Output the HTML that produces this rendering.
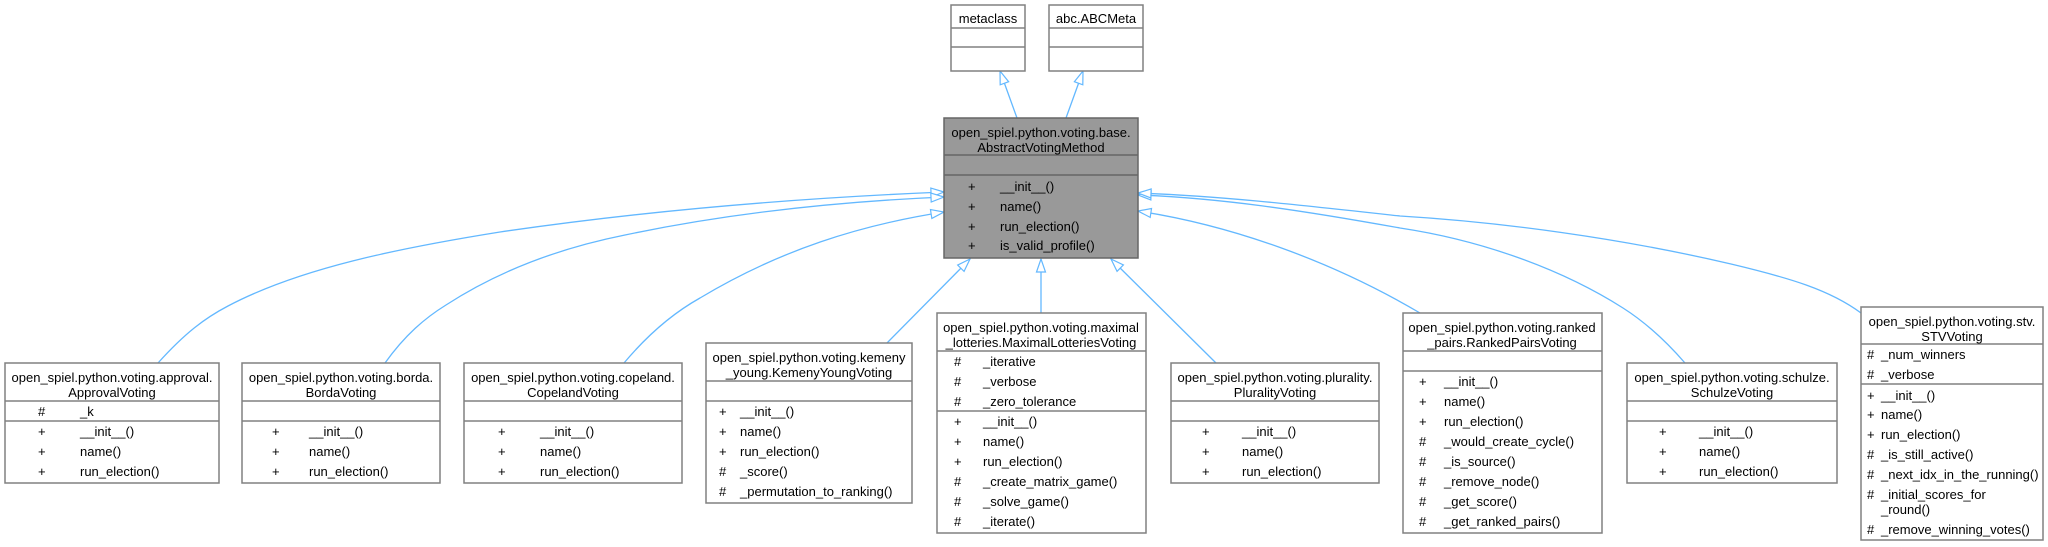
<!DOCTYPE html>
<html><head><meta charset="utf-8"><style>
html,body{margin:0;padding:0;background:#fff;}
svg{display:block;}
text{font-family:"Liberation Sans",Arial,sans-serif;font-size:13px;fill:#000;}
.b{fill:#fff;stroke:#808080;stroke-width:1.5;}
.g{fill:#999;stroke:#666;stroke-width:1.5;}
.d{stroke:#808080;stroke-width:1.5;}
.dg{stroke:#666;stroke-width:1.5;}
.e{fill:none;stroke:#63b8ff;stroke-width:1.3;}
</style></head><body>
<svg width="2048" height="547" viewBox="0 0 2048 547" xmlns="http://www.w3.org/2000/svg">
<defs>
<marker id="a" markerUnits="userSpaceOnUse" markerWidth="16" markerHeight="12" refX="14" refY="5.5" orient="auto">
<path d="M1,1 L14,5.5 L1,10 z" fill="#fff" stroke="#63b8ff" stroke-width="1.2"/>
</marker>
</defs>

<!-- edges -->
<path class="e" marker-end="url(#a)" d="M1017,118 L1000,71"/>
<path class="e" marker-end="url(#a)" d="M1066,118 L1083,71"/>
<path class="e" marker-end="url(#a)" d="M158,363 C185,333 205,318 228,306 C300,268 400,248 500,232 C650,210 800,198 944,192"/>
<path class="e" marker-end="url(#a)" d="M385,363 C405,335 425,318 446,305 C500,270 560,248 625,235 C720,215 830,202 944,197"/>
<path class="e" marker-end="url(#a)" d="M624,363 C650,332 675,312 700,298 C780,250 860,225 944,212"/>
<path class="e" marker-end="url(#a)" d="M887,343 L970,259"/>
<path class="e" marker-end="url(#a)" d="M1041,313 L1041,259"/>
<path class="e" marker-end="url(#a)" d="M1216,363 L1111,259"/>
<path class="e" marker-end="url(#a)" d="M1420,313 C1330,260 1230,225 1138,211"/>
<path class="e" marker-end="url(#a)" d="M1685,363 C1665,340 1645,322 1623,308 C1560,268 1480,240 1400,228 C1300,210 1220,198 1138,195"/>
<path class="e" marker-end="url(#a)" d="M1861,313 C1830,290 1790,278 1731,264 C1620,238 1500,222 1400,216 C1300,205 1220,196 1138,193"/>

<!-- metaclass -->
<rect class="b" x="951" y="5" width="74" height="66"/>
<line class="d" x1="951" y1="28" x2="1025" y2="28"/><line class="d" x1="951" y1="47" x2="1025" y2="47"/>
<text x="988" y="23" text-anchor="middle">metaclass</text>
<!-- ABCMeta -->
<rect class="b" x="1049" y="5" width="94" height="66"/>
<line class="d" x1="1049" y1="28" x2="1143" y2="28"/><line class="d" x1="1049" y1="47" x2="1143" y2="47"/>
<text x="1096" y="23" text-anchor="middle">abc.ABCMeta</text>

<!-- Base -->
<rect class="g" x="944" y="118" width="194" height="140"/>
<line class="dg" x1="944" y1="155" x2="1138" y2="155"/><line class="dg" x1="944" y1="175" x2="1138" y2="175"/>
<text x="1041" y="137" text-anchor="middle">open_spiel.python.voting.base.</text>
<text x="1041" y="152" text-anchor="middle">AbstractVotingMethod</text>
<text x="968" y="191">+</text><text x="1000" y="191">__init__()</text>
<text x="968" y="211">+</text><text x="1000" y="211">name()</text>
<text x="968" y="231">+</text><text x="1000" y="231">run_election()</text>
<text x="968" y="250">+</text><text x="1000" y="250">is_valid_profile()</text>

<!-- Approval -->
<rect class="b" x="5" y="363" width="214" height="120"/>
<line class="d" x1="5" y1="401" x2="219" y2="401"/><line class="d" x1="5" y1="421" x2="219" y2="421"/>
<text x="112" y="382" text-anchor="middle">open_spiel.python.voting.approval.</text>
<text x="112" y="397" text-anchor="middle">ApprovalVoting</text>
<text x="38" y="416">#</text><text x="80" y="416">_k</text>
<text x="38" y="436">+</text><text x="80" y="436">__init__()</text>
<text x="38" y="456">+</text><text x="80" y="456">name()</text>
<text x="38" y="476">+</text><text x="80" y="476">run_election()</text>

<!-- Borda -->
<rect class="b" x="242" y="363" width="198" height="120"/>
<line class="d" x1="242" y1="401" x2="440" y2="401"/><line class="d" x1="242" y1="421" x2="440" y2="421"/>
<text x="341" y="382" text-anchor="middle">open_spiel.python.voting.borda.</text>
<text x="341" y="397" text-anchor="middle">BordaVoting</text>
<text x="272" y="436">+</text><text x="309" y="436">__init__()</text>
<text x="272" y="456">+</text><text x="309" y="456">name()</text>
<text x="272" y="476">+</text><text x="309" y="476">run_election()</text>

<!-- Copeland -->
<rect class="b" x="464" y="363" width="218" height="120"/>
<line class="d" x1="464" y1="401" x2="682" y2="401"/><line class="d" x1="464" y1="421" x2="682" y2="421"/>
<text x="573" y="382" text-anchor="middle">open_spiel.python.voting.copeland.</text>
<text x="573" y="397" text-anchor="middle">CopelandVoting</text>
<text x="498" y="436">+</text><text x="540" y="436">__init__()</text>
<text x="498" y="456">+</text><text x="540" y="456">name()</text>
<text x="498" y="476">+</text><text x="540" y="476">run_election()</text>

<!-- Kemeny -->
<rect class="b" x="706" y="343" width="206" height="160"/>
<line class="d" x1="706" y1="381" x2="912" y2="381"/><line class="d" x1="706" y1="401" x2="912" y2="401"/>
<text x="809" y="362" text-anchor="middle">open_spiel.python.voting.kemeny</text>
<text x="809" y="377" text-anchor="middle">_young.KemenyYoungVoting</text>
<text x="719" y="416">+</text><text x="740" y="416">__init__()</text>
<text x="719" y="436">+</text><text x="740" y="436">name()</text>
<text x="719" y="456">+</text><text x="740" y="456">run_election()</text>
<text x="719" y="476">#</text><text x="740" y="476">_score()</text>
<text x="719" y="496">#</text><text x="740" y="496">_permutation_to_ranking()</text>

<!-- Maximal -->
<rect class="b" x="937" y="313" width="209" height="220"/>
<line class="d" x1="937" y1="351" x2="1146" y2="351"/><line class="d" x1="937" y1="411" x2="1146" y2="411"/>
<text x="1041" y="332" text-anchor="middle">open_spiel.python.voting.maximal</text>
<text x="1041" y="347" text-anchor="middle">_lotteries.MaximalLotteriesVoting</text>
<text x="954" y="366">#</text><text x="983" y="366">_iterative</text>
<text x="954" y="386">#</text><text x="983" y="386">_verbose</text>
<text x="954" y="406">#</text><text x="983" y="406">_zero_tolerance</text>
<text x="954" y="426">+</text><text x="983" y="426">__init__()</text>
<text x="954" y="446">+</text><text x="983" y="446">name()</text>
<text x="954" y="466">+</text><text x="983" y="466">run_election()</text>
<text x="954" y="486">#</text><text x="983" y="486">_create_matrix_game()</text>
<text x="954" y="506">#</text><text x="983" y="506">_solve_game()</text>
<text x="954" y="526">#</text><text x="983" y="526">_iterate()</text>

<!-- Plurality -->
<rect class="b" x="1171" y="363" width="208" height="120"/>
<line class="d" x1="1171" y1="401" x2="1379" y2="401"/><line class="d" x1="1171" y1="421" x2="1379" y2="421"/>
<text x="1275" y="382" text-anchor="middle">open_spiel.python.voting.plurality.</text>
<text x="1275" y="397" text-anchor="middle">PluralityVoting</text>
<text x="1202" y="436">+</text><text x="1242" y="436">__init__()</text>
<text x="1202" y="456">+</text><text x="1242" y="456">name()</text>
<text x="1202" y="476">+</text><text x="1242" y="476">run_election()</text>

<!-- Ranked -->
<rect class="b" x="1403" y="313" width="199" height="220"/>
<line class="d" x1="1403" y1="351" x2="1602" y2="351"/><line class="d" x1="1403" y1="371" x2="1602" y2="371"/>
<text x="1502" y="332" text-anchor="middle">open_spiel.python.voting.ranked</text>
<text x="1502" y="347" text-anchor="middle">_pairs.RankedPairsVoting</text>
<text x="1419" y="386">+</text><text x="1444" y="386">__init__()</text>
<text x="1419" y="406">+</text><text x="1444" y="406">name()</text>
<text x="1419" y="426">+</text><text x="1444" y="426">run_election()</text>
<text x="1419" y="446">#</text><text x="1444" y="446">_would_create_cycle()</text>
<text x="1419" y="466">#</text><text x="1444" y="466">_is_source()</text>
<text x="1419" y="486">#</text><text x="1444" y="486">_remove_node()</text>
<text x="1419" y="506">#</text><text x="1444" y="506">_get_score()</text>
<text x="1419" y="526">#</text><text x="1444" y="526">_get_ranked_pairs()</text>

<!-- Schulze -->
<rect class="b" x="1627" y="363" width="210" height="120"/>
<line class="d" x1="1627" y1="401" x2="1837" y2="401"/><line class="d" x1="1627" y1="421" x2="1837" y2="421"/>
<text x="1732" y="382" text-anchor="middle">open_spiel.python.voting.schulze.</text>
<text x="1732" y="397" text-anchor="middle">SchulzeVoting</text>
<text x="1659" y="436">+</text><text x="1699" y="436">__init__()</text>
<text x="1659" y="456">+</text><text x="1699" y="456">name()</text>
<text x="1659" y="476">+</text><text x="1699" y="476">run_election()</text>

<!-- STV -->
<rect class="b" x="1861" y="307" width="182" height="233"/>
<line class="d" x1="1861" y1="344" x2="2043" y2="344"/><line class="d" x1="1861" y1="384" x2="2043" y2="384"/>
<text x="1952" y="326" text-anchor="middle">open_spiel.python.voting.stv.</text>
<text x="1952" y="341" text-anchor="middle">STVVoting</text>
<text x="1867" y="359">#</text><text x="1881" y="359">_num_winners</text>
<text x="1867" y="379">#</text><text x="1881" y="379">_verbose</text>
<text x="1867" y="400">+</text><text x="1881" y="400">__init__()</text>
<text x="1867" y="419">+</text><text x="1881" y="419">name()</text>
<text x="1867" y="439">+</text><text x="1881" y="439">run_election()</text>
<text x="1867" y="459">#</text><text x="1881" y="459">_is_still_active()</text>
<text x="1867" y="479">#</text><text x="1881" y="479">_next_idx_in_the_running()</text>
<text x="1867" y="499">#</text><text x="1881" y="499">_initial_scores_for</text>
<text x="1881" y="514">_round()</text>
<text x="1867" y="534">#</text><text x="1881" y="534">_remove_winning_votes()</text>
</svg>
</body></html>
